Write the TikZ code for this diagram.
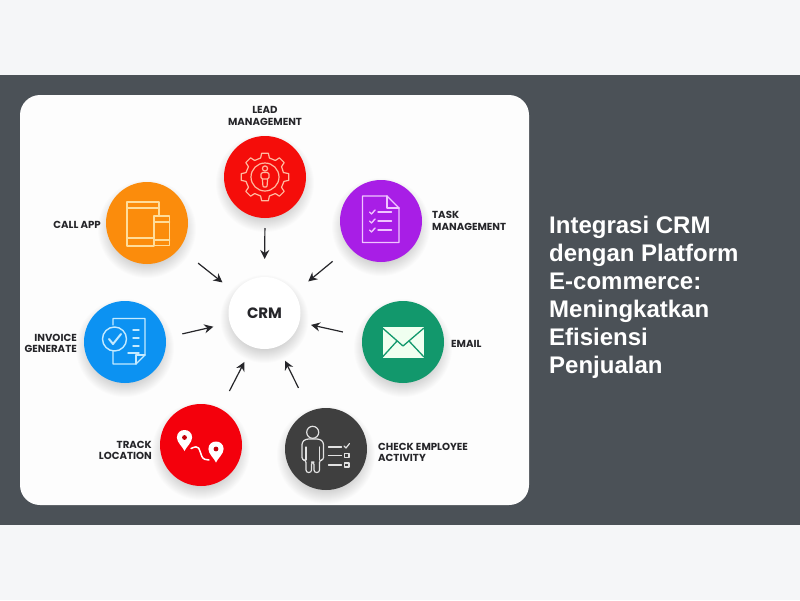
\documentclass[tikz,border=0pt]{standalone}
\usepackage{fontspec}
\setmainfont{Liberation Sans}
\newfontfamily\lblfont{Poppins}
\definecolor{pagebg}{HTML}{F5F6F8}
\definecolor{band}{HTML}{4B5157}
\definecolor{panel}{HTML}{FDFDFD}
\definecolor{ink}{HTML}{26262A}
\definecolor{cLead}{HTML}{F50D0A}
\definecolor{cTask}{HTML}{A81EE6}
\definecolor{cCall}{HTML}{FB8C0C}
\definecolor{cInv}{HTML}{0C92F2}
\definecolor{cMail}{HTML}{12986C}
\definecolor{cTrack}{HTML}{F4000C}
\definecolor{cCheck}{HTML}{3F3F3F}
\definecolor{iLead}{HTML}{FFB9A0}
\definecolor{iTask}{HTML}{F0C4FF}
\definecolor{iCall}{HTML}{FFDD9A}
\definecolor{iInv}{HTML}{C4EAFF}
\definecolor{iCheck}{HTML}{E2E2E2}
\newcommand{\softshadow}[3]{%
  \foreach \q in {0,1,...,14}{\fill[black,opacity=.012] (#1,#2+6) circle ({#3+8-\q});}}
\tikzset{
  x=1pt,y=-1pt,
  hub/.style={circle,minimum size=82pt,inner sep=0pt,outer sep=0pt,draw=none},
  lbl/.style={font=\lblfont\bfseries\fontsize{10.2}{11.5}\selectfont,text=ink,inner sep=0pt},
  flow/.style={draw=ink,line width=1.2pt,-{Stealth[length=9pt,width=9pt]}},
  ico/.style={line width=1.4pt,line join=round,line cap=round},
  title/.style={font=\bfseries\fontsize{24}{28}\selectfont,text=white,align=left,anchor=north west,inner sep=0pt},
}
\usetikzlibrary{arrows.meta}
\begin{document}
\begin{tikzpicture}
\useasboundingbox (0,0) rectangle (800,600);
\fill[pagebg] (0,0) rectangle (800,600);
\fill[band] (0,75) rectangle (800,525);
\fill[panel,rounded corners=20pt] (20,95) rectangle (529,505);
% soft shadows
\softshadow{265}{177}{41}
\softshadow{381}{221}{41}
\softshadow{147}{223}{41}
\softshadow{125}{342}{41}
\softshadow{403}{342}{41}
\softshadow{201}{445}{41}
\softshadow{326}{449}{41}
\softshadow{264.5}{313}{36}
% hubs
\node[hub,fill=cLead] (lead) at (265,177) {};
\node[hub,fill=cTask] (task) at (381,221) {};
\node[hub,fill=cCall] (call) at (147,223) {};
\node[hub,fill=cInv] (inv) at (125,342) {};
\node[hub,fill=cMail] (mail) at (403,342) {};
\node[hub,fill=cTrack] (track) at (201,445) {};
\node[hub,fill=cCheck] (check) at (326,449) {};
\node[hub,fill=white,minimum size=72pt,font=\lblfont\bfseries\fontsize{15}{16}\selectfont,text=ink] (crm) at (264.5,313) {CRM};
% connectors
\draw[flow,shorten <=10pt,shorten >=18pt] (lead.south) -- (crm.north);
\draw[flow,shorten <=22pt,shorten >=18pt] (task.220.5) -- (crm.34.3);
\draw[flow,shorten <=24pt,shorten >=16pt] (call.-38.1) -- (crm.145.4);
\draw[flow,shorten <=17pt,shorten >=17pt] (inv.6.9) -- (crm.196.7);
\draw[flow,shorten <=20pt,shorten >=12pt] (mail.172.5) -- (crm.-15.8);
\draw[flow,shorten <=20pt,shorten >=17pt] (track.62.6) -- (crm.250);
\draw[flow,shorten <=26pt,shorten >=16pt] (check.113.9) -- (crm.-68);
% lead icon
\begin{scope}[shift={(265,177)},ico,draw=iLead,line width=1.2pt]
  \draw (-13:19) foreach \a in {0,45,...,315}{ -- (\a-13:19.5) -- (\a-8:24) -- (\a+8:24) -- (\a+13:19.5)} -- cycle;
  \draw (0,0) circle (14pt);
  \draw (0,-8.5) circle (2.6pt);
  \draw[rounded corners=1.5pt] (-4,-4.5) rectangle (4,2);
  \draw[rounded corners=1pt] (-2.6,2) -- (-2,10) -- (2,10) -- (2.6,2);
\end{scope}
% task icon
\begin{scope}[ico,draw=iTask]
  \draw (362.5,196) -- (387,196) -- (399,208) -- (399,242.5) -- (362.5,242.5) -- cycle;
  \draw (387,196) -- (387,208) -- (399,208);
  \foreach \y in {212,221,230}{
    \draw (369.5,\y) -- (371.5,\y+2) -- (375,\y-2);
    \draw (378,\y) -- (391.5,\y);}
\end{scope}
% call icon
\begin{scope}[ico,draw=iCall]
  \draw (154,246) -- (127,246) -- (127,202) -- (159,202) -- (159,216);
  \draw (127,208) -- (159,208);
  \draw (127,238) -- (154,238);
  \draw (154,216) rectangle (169.5,245.5);
  \draw (154,222) -- (169.5,222);
  \draw (154,240) -- (169.5,240);
\end{scope}
% invoice icon
\begin{scope}[ico,draw=iInv]
  \draw (113,325) -- (113,318.5) -- (145,318.5) -- (145,355) -- (136,364) -- (113,364) -- (113,351);
  \draw (136,364) -- (136,355) -- (145,355);
  \draw (114.5,339) circle (12pt);
  \draw[line width=2pt] (109,339) -- (113,344) -- (121,334);
  \foreach \y in {330,338,346}{\draw (133,\y) -- (139,\y);}
  \draw (128,353) -- (139,353);
\end{scope}
% mail icon
\path[fill=green!6!white] (382.5,327) rectangle (424,357.5);
\begin{scope}[ico,draw=cMail,line width=1.3pt]
  \draw (382.5,328) -- (403,346) -- (424,328);
  \draw (382.5,357) -- (397,341);
  \draw (424,357) -- (409,341);
\end{scope}
% track icon
\foreach \px/\py in {184.5/437.5,216/449}{
  \fill[white] (\px-7.6,\py) .. controls (\px-7.6,\py-10) and (\px+7.6,\py-10) .. (\px+7.6,\py)
    .. controls (\px+7.6,\py+5) and (\px+2,\py+9) .. (\px,\py+13.5)
    .. controls (\px-2,\py+9) and (\px-7.6,\py+5) .. (\px-7.6,\py) -- cycle;
  \fill[cTrack!80!black] (\px,\py) circle (2.4pt);
}
\draw[white,line width=1.5pt,line cap=round] (191,448.5) .. controls (200,444) and (199,450) .. (201,454) .. controls (203,461) and (206,459) .. (209,460);
% check icon
\begin{scope}[ico,draw=iCheck,line width=1.2pt]
  \draw (312.7,432.3) circle (6pt);
  \draw[rounded corners=2.5pt] (306,439) -- (302,442) -- (302,460) -- (306,460) -- (306,472.5) -- (311.5,472.5) -- (311.5,462) -- (314,462) -- (314,472.5) -- (319.5,472.5) -- (319.5,460) -- (323.5,460) -- (323.5,442) -- (319.5,439) -- cycle;
  \draw (306,447) -- (306,460); \draw (319.5,447) -- (319.5,460);
  \draw (328.5,447) -- (341.5,447);
  \draw (328.5,455.5) -- (341.5,455.5);
  \draw (328.5,465) -- (341.5,465);
  \draw (344,446) -- (346,448) -- (349.5,443.5);
  \draw (344.5,453.5) rectangle (349,457.5);
  \draw (344.5,463) rectangle (349,467);
\end{scope}
% labels
\node[lbl,align=center] (tlead) at (265,116) {LEAD\\MANAGEMENT};
\node[lbl,align=left,anchor=west] (ttask) at (432,221) {TASK\\MANAGEMENT};
\node[lbl,anchor=east] (tcall) at (101,225) {CALL APP};
\node[lbl,align=right,anchor=east] (tinv) at (77,343.5) {INVOICE\\GENERATE};
\node[lbl,anchor=west] (tmail) at (451,344) {EMAIL};
\node[lbl,align=right,anchor=east] (ttrack) at (152,450.5) {TRACK\\LOCATION};
\node[lbl,align=left,anchor=west] (tcheck) at (378,452.5) {CHECK EMPLOYEE\\ACTIVITY};
\node[title] (head) at (549,216) {Integrasi CRM\\dengan Platform\\E-commerce:\\Meningkatkan\\Efisiensi\\Penjualan};
\end{tikzpicture}
\end{document}
